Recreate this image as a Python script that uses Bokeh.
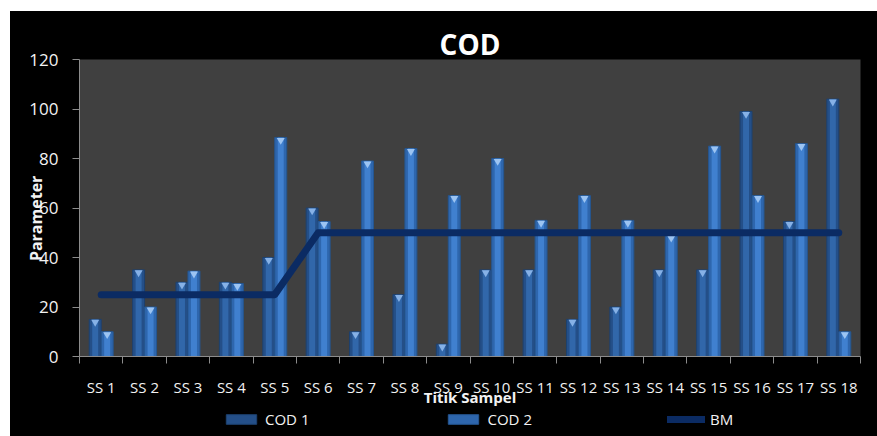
from bokeh.plotting import figure
from bokeh.layouts import column
from bokeh.models import Range1d, FixedTicker, Legend, LegendItem
from bokeh.embed import file_html
from bokeh.resources import INLINE

# ---- data ----
categories = ["SS 1", "SS 2", "SS 3", "SS 4", "SS 5", "SS 6", "SS 7", "SS 8", "SS 9",
              "SS 10", "SS 11", "SS 12", "SS 13", "SS 14", "SS 15", "SS 16", "SS 17", "SS 18"]
cod1 = [15, 35, 30, 30, 40, 60, 10, 25, 5, 35, 35, 15, 20, 35, 35, 99, 54.5, 104]
cod2 = [10, 20, 34.5, 29.5, 88.5, 54.5, 79, 84, 65, 80, 55, 65, 55, 49, 85, 65, 86, 10]
bm = [25, 25, 25, 25, 25, 50, 50, 50, 50, 50, 50, 50, 50, 50, 50, 50, 50, 50]
y_ticks = [0, 20, 40, 60, 80, 100, 120]
series_names = ["COD 1", "COD 2", "BM"]

FONT = "Open Sans"
TXT = "#f2f2f2"
C1, C1_IN, C1_LN = "#244f88", "#3167aa", "#1d416f"
C2, C2_IN, C2_LN = "#2e66ad", "#4080cf", "#255690"
C_BM = "#0b2b63"

n = len(categories)
xs = [i + 1 for i in range(n)]
bw = 0.276
x1 = [x - bw / 2 for x in xs]
x2 = [x + bw / 2 for x in xs]

p = figure(width=867, height=399, output_backend="svg", toolbar_location=None,
           x_range=Range1d(0.5, n + 0.5), y_range=Range1d(0, 120),
           min_border_left=69, min_border_right=17, min_border_top=48, min_border_bottom=54)
p.background_fill_color = "#404040"
p.border_fill_color = "black"
p.outline_line_color = None
p.xgrid.grid_line_color = None
p.ygrid.grid_line_color = None

# title
p.title.text = "COD"
p.title.align = "center"
p.title.text_font = FONT
p.title.text_font_size = "28px"
p.title.text_font_style = "bold"
p.title.text_color = "white"
p.title.standoff = -6
p.title.offset = -7

# bars COD 1 (darker)
r1 = p.vbar(x=x1, top=cod1, width=bw, bottom=0, fill_color=C1, line_color=C1_LN, line_width=1)
p.vbar(x=x1, top=cod1, width=bw * 0.5, bottom=0, fill_color=C1_IN, line_color=None)
# bars COD 2 (lighter)
r2 = p.vbar(x=x2, top=cod2, width=bw, bottom=0, fill_color=C2, line_color=C2_LN, line_width=1)
p.vbar(x=x2, top=cod2, width=bw * 0.5, bottom=0, fill_color=C2_IN, line_color=None)
# top highlights
p.scatter(x=x1, y=[v - 1.1 for v in cod1], marker="inverted_triangle", size=8,
          fill_color="#86b1e6", line_color=None)
p.scatter(x=x2, y=[v - 1.1 for v in cod2], marker="inverted_triangle", size=8,
          fill_color="#9cc4f2", line_color=None)

# BM line
r3 = p.line(x=xs, y=bm, line_width=7, line_color=C_BM, line_cap="round", line_join="round")

# x axis
p.xaxis.ticker = FixedTicker(ticks=xs, minor_ticks=[x - 0.5 for x in xs] + [n + 0.5])
p.xaxis.major_label_overrides = {x: c for x, c in zip(xs, categories)}
p.xaxis.major_tick_out = 0
p.xaxis.major_tick_in = 0
p.xaxis.minor_tick_out = 7
p.xaxis.minor_tick_in = 0
p.xaxis.minor_tick_line_color = "#8c8c8c"
p.xaxis.axis_line_color = "#8c8c8c"
p.xaxis.major_label_standoff = 13
p.xaxis.major_label_text_font = FONT
p.xaxis.major_label_text_font_size = "15px"
p.xaxis.major_label_text_color = TXT
p.xaxis.axis_label = "Titik Sampel"
p.xaxis.axis_label_text_font = FONT
p.xaxis.axis_label_text_font_size = "15px"
p.xaxis.axis_label_text_font_style = "bold"
p.xaxis.axis_label_text_color = TXT
p.xaxis.axis_label_standoff = -13

# y axis
p.yaxis.ticker = FixedTicker(ticks=y_ticks)
p.yaxis.major_tick_out = 7
p.yaxis.major_tick_in = 0
p.yaxis.minor_tick_line_color = None
p.yaxis.major_tick_line_color = "#8c8c8c"
p.yaxis.axis_line_color = "#8c8c8c"
p.yaxis.major_label_standoff = 14
p.yaxis.major_label_text_font = FONT
p.yaxis.major_label_text_font_size = "17px"
p.yaxis.major_label_text_color = TXT
p.yaxis.axis_label = "Parameter" + "\u00a0" * 5
p.yaxis.axis_label_text_font = FONT
p.yaxis.axis_label_text_font_size = "16px"
p.yaxis.axis_label_text_font_style = "bold"
p.yaxis.axis_label_text_color = TXT
p.yaxis.axis_label_standoff = -21

# legend strip (separate small figure below the chart)
lg = figure(width=867, height=26, output_backend="svg", toolbar_location=None,
            x_range=Range1d(0, 1), y_range=Range1d(0, 1),
            x_axis_location=None, y_axis_location=None,
            min_border_left=69, min_border_right=17, min_border_top=0, min_border_bottom=0)
lg.background_fill_color = "black"
lg.border_fill_color = "black"
lg.outline_line_color = None
lg.xgrid.grid_line_color = None
lg.ygrid.grid_line_color = None
l1 = lg.vbar(x=x1, top=cod1, width=bw, fill_color=C1, line_color=C1_LN, visible=False)
l2 = lg.vbar(x=x2, top=cod2, width=bw, fill_color=C2, line_color=C2_LN, visible=False)
l3 = lg.line(x=xs, y=bm, line_width=7, line_color=C_BM, line_cap="round", visible=False)
legend = Legend(items=[LegendItem(label=series_names[0], renderers=[l1]),
                       LegendItem(label=series_names[1], renderers=[l2]),
                       LegendItem(label=series_names[2], renderers=[l3])],
                orientation="horizontal", location=(141, 5), click_policy="none",
                glyph_width=38, glyph_height=12, label_standoff=5, spacing=135,
                padding=2, margin=0, label_height=16,
                background_fill_alpha=0, border_line_alpha=0,
                inactive_fill_alpha=0,
                label_text_color=TXT, label_text_font=FONT, label_text_font_size="15px")
lg.add_layout(legend, "center")

layout = column(p, lg, spacing=0, margin=(11, 0, 0, 10),
                styles={"background-color": "black"})
open("out.html", "w").write(file_html(layout, INLINE))
